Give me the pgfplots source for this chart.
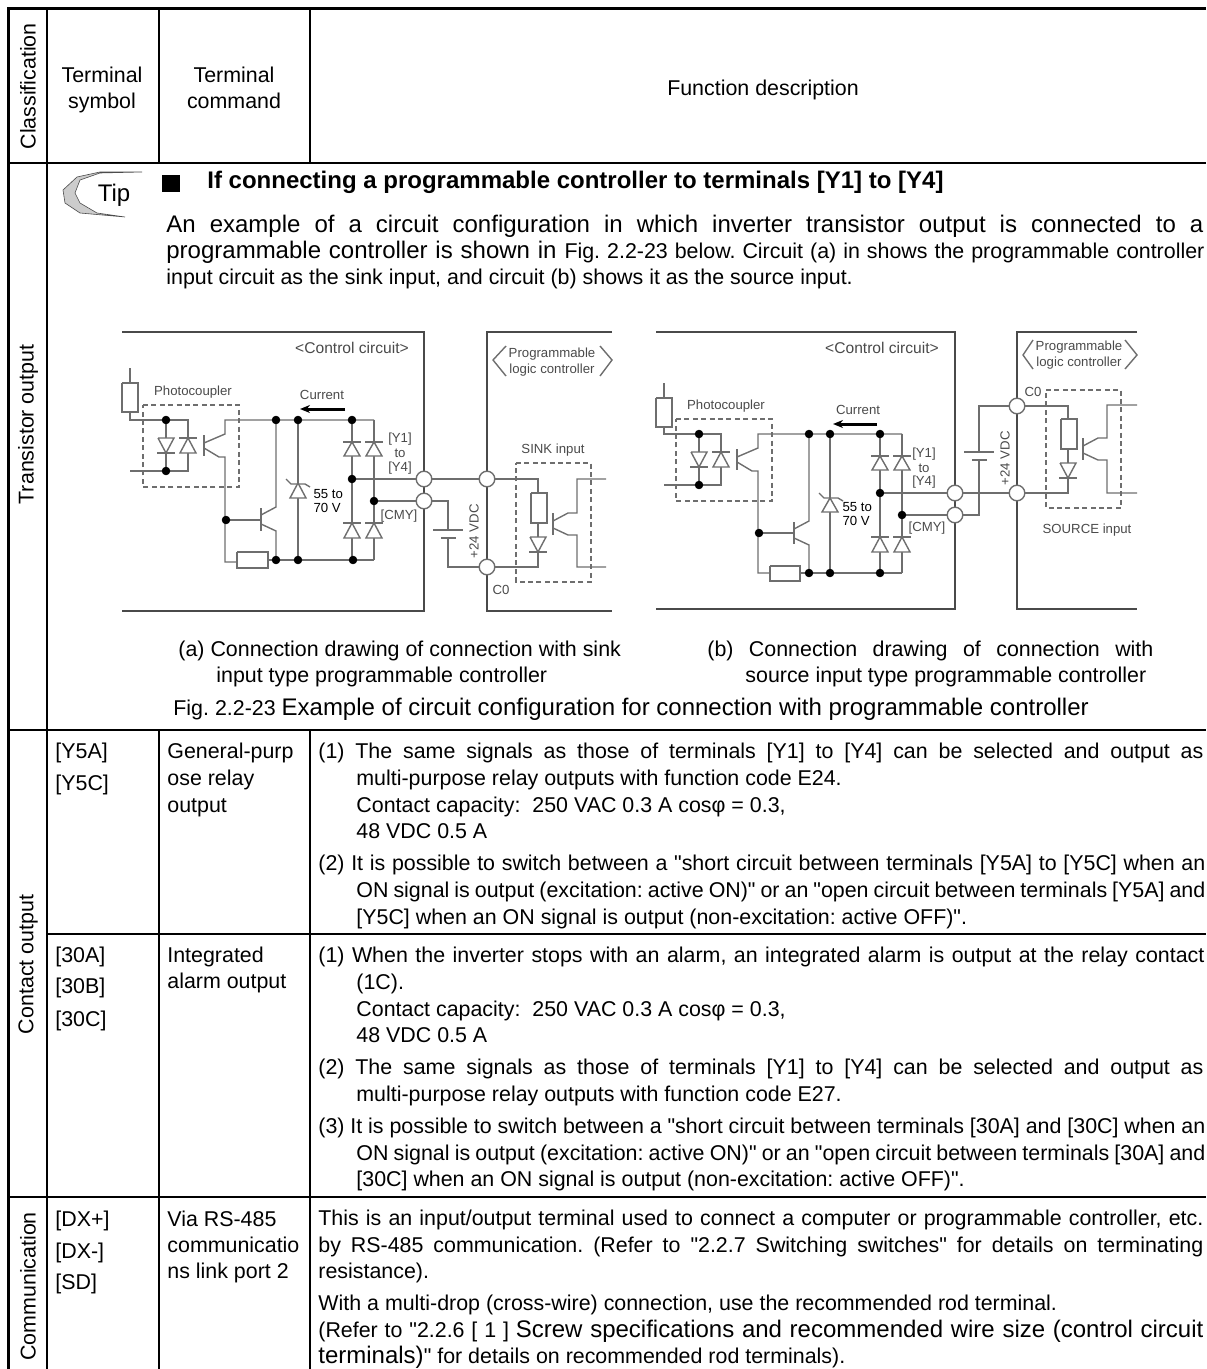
\documentclass[border=0pt]{standalone}
\usepackage{pgfplots}
\pgfplotsset{compat=1.18}
\usetikzlibrary{arrows.meta}
\usepackage{fontspec}
\setmainfont{Liberation Sans}[Ligatures=TeXOff]
\newdimen\px \px=0.5pt
\newcommand\bodyf{\fontsize{10.7pt}{12pt}\selectfont\spaceskip=.278em plus 3em minus .17em\relax}
\newcommand\bigf{\fontsize{12pt}{14pt}\selectfont\spaceskip=.278em plus 3em minus .17em\relax}
\newcommand\circf{\fontsize{6.6pt}{7pt}\selectfont}
\newcommand\T[3]{\node[anchor=base west,inner sep=0pt,font=\bodyf] at (axis cs:#1,#2) {#3};}
\newcommand\Tc[3]{\node[anchor=base,inner sep=0pt,font=\bodyf] at (axis cs:#1,#2) {#3};}
\newcommand\J[4]{\node[anchor=base west,inner sep=0pt,font=\bodyf] at (axis cs:#1,#2) {\makebox[#3\px][s]{#4}};}
\newcommand\R[3]{\node[anchor=center,inner sep=0pt,rotate=90,font=\bodyf] at (axis cs:#1,#2) {#3};}
\newcommand\C[3]{\node[anchor=center,inner sep=0pt,font=\circf,text=wiret] at (axis cs:#1,#2) {#3};}
\definecolor{wire}{HTML}{6E6E6E}
\definecolor{wiret}{HTML}{4A4A4A}
\newcommand\G[1]{\addplot[black,line width=1pt,forget plot] coordinates {#1};}
\newcommand\W[1]{\addplot[wire,line width=0.7pt,forget plot] coordinates {#1};}
\newcommand\D[1]{\addplot[wire,line width=0.7pt,dash pattern=on 2.5pt off 1.7pt,forget plot] coordinates {#1};}
\newcommand\B[1]{\addplot[wire,line width=0.7pt,fill=white,forget plot] coordinates {#1};}
\begin{document}
\frenchspacing
\begin{tikzpicture}
\path[use as bounding box] (0,0) rectangle (603pt,684.5pt);
\tikzset{every node/.append style={yshift=-0.7pt}}
\begin{axis}[at={(0,0)},anchor=south west,scale only axis,width=603pt,height=684.5pt,
 xmin=0,xmax=1206,ymin=0,ymax=1369,y dir=reverse,hide axis,clip=false]
% table grid
\addplot[black,line width=1.5pt,forget plot] coordinates {(8,1369)(8,9)(1206,9)};
\G{(47,9)(47,1369)}
\G{(159,9)(159,163)} \G{(310,9)(310,163)}
\G{(159,730)(159,1369)} \G{(310,730)(310,1369)}
\G{(8,163)(1206,163)} \G{(8,730)(1206,730)} \G{(47,934)(1206,934)} \G{(8,1197)(1206,1197)}
% header
\R{28}{85}{Classification}
\Tc{102}{81}{Terminal} \Tc{102}{107}{symbol}
\Tc{234}{81}{Terminal} \Tc{234}{107}{command}
\Tc{763}{94}{Function description}
\R{28}{423}{Transistor output}
\R{28}{963}{Contact output}
\R{28}{1285}{Communication}
% tip logo
\addplot[fill=gray!40,draw=gray!60!black,line width=0.3pt,forget plot] coordinates {(142,172)(100,172)(77,177)(63,190)(65,203)(80,213)(125,217)(97,213)(80,203)(75,193)(80,180)(100,173)(142,172)};
\node[anchor=base,inner sep=0pt,font=\fontsize{12pt}{14pt}\selectfont] at (axis cs:114,200) {Tip};
\addplot[black,fill=black,line width=0pt,forget plot] coordinates {(162,175)(179,175)(179,191)(162,191)(162,175)};
\node[anchor=base west,inner sep=0pt,font=\fontsize{12pt}{14pt}\selectfont\bfseries] at (axis cs:207,187) {If connecting a programmable controller to terminals [Y1] to [Y4]};
\node[anchor=base west,inner sep=0pt,font=\bigf] at (axis cs:166,231) {\makebox[1037\px][s]{An example of a circuit configuration in which inverter transistor output is connected to a}};
\node[anchor=base west,inner sep=0pt,font=\bigf] at (axis cs:166,257) {\makebox[1038\px][s]{programmable controller is shown in {\bodyf Fig. 2.2-23 below. Circuit (a) in shows the programmable controller}}};
\T{166}{283}{input circuit as the sink input, and circuit (b) shows it as the source input.}
% captions
\T{178}{655}{(a) Connection drawing of connection with sink}
\T{216}{681}{input type programmable controller}
\J{707}{655}{446}{(b) Connection drawing of connection with}
\T{745}{681}{source input type programmable controller}
\node[anchor=base west,inner sep=0pt,font=\bodyf] at (axis cs:173,714) {Fig. 2.2-23 {\bigf Example of circuit configuration for connection with programmable controller}};
% row Y5
\T{55}{757}{[Y5A]} \T{55}{789}{[Y5C]}
\T{167}{757}{General-purp} \T{167}{784}{ose relay} \T{167}{811}{output}
\J{318}{757}{885}{(1) The same signals as those of terminals [Y1] to [Y4] can be selected and output as}
\T{356}{784}{multi-purpose relay outputs with function code E24.}
\T{356}{811}{Contact capacity:\ \ 250 VAC 0.3 A cosφ = 0.3,}
\T{356}{837}{48 VDC 0.5 A}
\J{318}{869}{887}{(2) It is possible to switch between a "short circuit between terminals [Y5A] to [Y5C] when an}
\J{356}{896}{849}{ON signal is output (excitation: active ON)" or an "open circuit between terminals [Y5A] and}
\T{356}{923}{[Y5C] when an ON signal is output (non-excitation: active OFF)".}
% row 30
\T{55}{961}{[30A]} \T{55}{992}{[30B]} \T{55}{1025}{[30C]}
\T{167}{961}{Integrated} \T{167}{987}{alarm output}
\J{318}{961}{886}{(1) When the inverter stops with an alarm, an integrated alarm is output at the relay contact}
\T{356}{988}{(1C).}
\T{356}{1015}{Contact capacity:\ \ 250 VAC 0.3 A cosφ = 0.3,}
\T{356}{1041}{48 VDC 0.5 A}
\J{318}{1073}{885}{(2) The same signals as those of terminals [Y1] to [Y4] can be selected and output as}
\T{356}{1100}{multi-purpose relay outputs with function code E27.}
\J{318}{1132}{887}{(3) It is possible to switch between a "short circuit between terminals [30A] and [30C] when an}
\J{356}{1159}{849}{ON signal is output (excitation: active ON)" or an "open circuit between terminals [30A] and}
\T{356}{1185}{[30C] when an ON signal is output (non-excitation: active OFF)".}
% row comm
\T{55}{1225}{[DX+]} \T{55}{1257}{[DX-]} \T{55}{1288}{[SD]}
\T{167}{1225}{Via RS-485} \T{167}{1251}{communicatio} \T{167}{1277}{ns link port 2}
\J{318}{1224}{885}{This is an input/output terminal used to connect a computer or programmable controller, etc.}
\J{318}{1251}{885}{by RS-485 communication. (Refer to "2.2.7 Switching switches" for details on terminating}
\T{318}{1277}{resistance).}
\T{318}{1309}{With a multi-drop (cross-wire) connection, use the recommended rod terminal.}
\J{318}{1336}{885}{(Refer to "2.2.6 [ 1 ] {\bigf Screw specifications and recommended wire size (control circuit}}
\T{318}{1362}{{\bigf terminals)}" for details on recommended rod terminals).}
% ---------- circuit (a)
\addplot[wiret,line width=0.7pt,forget plot] coordinates {(122,611)(424,611)(424,332)(122,332)};
\addplot[wiret,line width=0.7pt,forget plot] coordinates {(612,332)(487,332)(487,611)(612,611)};
\W{(130,368)(130,383)} \W{(130,412)(130,420)(188,420)(188,471)(130,471)}
\W{(166,420)(166,471)}
\W{(122,383)(138,383)(138,412)(122,412)(122,383)}
\D{(143,405)(239,405)(239,487)(143,487)(143,405)}
\B{(158,438)(174,438)(166,453)(158,438)} \W{(157,453)(175,453)}
\B{(188,438)(196,453)(180,453)(188,438)} \W{(179,438)(197,438)}
\W{(204,435)(204,456)} \W{(204,443)(225,434)(225,420)(374,420)}
\W{(204,448)(219,457)(225,457)(225,562)(237,562)} \W{(268,560)(374,560)}
\B{(237,552)(268,552)(268,568)(237,568)(237,552)}
\W{(226,520)(261,520)} \W{(261,508)(261,531)} \W{(261,515)(276,507)(276,420)} \W{(261,524)(276,531)(276,560)}
\W{(298,420)(298,560)}
\B{(298,483)(306,498)(290,498)(298,483)} \W{(286,479)(291,484)(305,484)(310,487)}
\W{(352,420)(352,560)} \W{(374,420)(374,560)}
\B{(352,442)(360,456)(344,456)(352,442)} \W{(343,442)(361,442)}
\B{(374,442)(382,456)(366,456)(374,442)} \W{(365,442)(383,442)}
\B{(352,523)(360,538)(344,538)(352,523)} \W{(343,523)(361,523)}
\B{(374,523)(382,538)(366,538)(374,523)} \W{(365,523)(383,523)}
\W{(352,479)(538,479)(538,493)} \W{(538,523)(538,537)} \W{(538,552)(538,567)(487,567)} \W{(374,501)(448,501)(448,530)} \W{(433,530)(463,530)} \W{(441,538)(456,538)} \W{(448,538)(448,567)(487,567)}
\B{(531,493)(547,493)(547,523)(531,523)(531,493)}
\B{(530,537)(546,537)(538,552)(530,537)} \W{(529,552)(547,552)}
\D{(516,463)(591,463)(591,582)(516,582)(516,463)}
\W{(553,513)(553,535)} \W{(553,521)(568,513)(577,513)(577,479)(606,479)} \W{(553,528)(568,535)(577,535)(577,567)(606,567)}
\W{(506,346)(493,360)(506,376)} \W{(600,346)(612,360)(600,376)}
\addplot[black,line width=1.5pt,forget plot,-{Stealth[length=5pt,width=4pt]}] coordinates {(345,409)(300,409)};
\addplot[only marks,mark=*,mark size=1.9pt,black,forget plot] coordinates {(166,420)(166,471)(276,420)(298,420)(352,420)(276,560)(298,560)(353,560)(226,520)(352,479)(374,501)};
\addplot[only marks,mark=*,mark size=3.9pt,mark options={draw=wire,fill=white,line width=0.7pt},forget plot] coordinates {(424,479)(424,501)(487,479)(487,567)};
\C{352}{347}{\fontsize{7.8pt}{9pt}\selectfont <Control circuit>}
\C{193}{391}{Photocoupler} \C{322}{394}{Current}
\C{552}{353}{Programmable} \C{552}{369}{logic controller}
\C{553}{449}{SINK input} \C{400}{438}{[Y1]} \C{400}{452}{to} \C{400}{467}{[Y4]}
\C{399}{515}{[CMY]} \C{501}{589}{C0}
\node[rotate=90,inner sep=0pt,font=\circf,text=wiret] at (axis cs:474,530) {+24 VDC};
\node[anchor=west,fill=white,inner sep=0.6pt,font=\circf,align=left] at (axis cs:312,500) {55 to\\70 V};
% ---------- circuit (b)
\addplot[wiret,line width=0.7pt,forget plot] coordinates {(656,332)(955,332)(955,609)(656,609)};
\addplot[wiret,line width=0.7pt,forget plot] coordinates {(1137,332)(1017,332)(1017,609)(1137,609)};
\W{(664,383)(664,398)} \W{(664,427)(664,434)(721,434)(721,485)(664,485)}
\W{(699,434)(699,485)}
\W{(656,398)(672,398)(672,427)(656,427)(656,398)}
\D{(676,419)(772,419)(772,501)(676,501)(676,419)}
\B{(691,452)(707,452)(699,467)(691,452)} \W{(690,467)(708,467)}
\B{(721,452)(729,467)(713,467)(721,452)} \W{(712,452)(730,452)}
\W{(737,449)(737,470)} \W{(737,457)(758,448)(758,434)(902,434)}
\W{(737,462)(752,471)(758,471)(758,573)(770,573)} \W{(801,573)(902,573)}
\B{(770,566)(800,566)(800,581)(770,581)(770,566)}
\W{(759,533)(794,533)} \W{(794,522)(794,544)} \W{(794,529)(809,521)(809,434)} \W{(794,538)(809,545)(809,573)}
\W{(830,434)(830,573)}
\B{(830,498)(838,512)(822,512)(830,498)} \W{(819,493)(824,498)(838,498)(843,501)}
\W{(880,434)(880,573)} \W{(902,434)(902,573)}
\B{(880,456)(888,470)(872,470)(880,456)} \W{(871,456)(889,456)}
\B{(902,456)(910,470)(894,470)(902,456)} \W{(893,456)(911,456)}
\B{(880,537)(888,552)(872,552)(880,537)} \W{(871,537)(889,537)}
\B{(902,537)(910,552)(894,552)(902,537)} \W{(893,537)(911,537)}
\W{(880,493)(1068,493)(1068,478)} \W{(902,515)(979,515)(979,460)} \W{(964,452)(994,452)} \W{(972,460)(987,460)} \W{(979,452)(979,406)(1068,406)(1068,419)} \W{(1068,449)(1068,463)}
\B{(1061,419)(1077,419)(1077,449)(1061,449)(1061,419)}
\B{(1060,463)(1076,463)(1068,478)(1060,463)} \W{(1059,478)(1077,478)}
\D{(1046,390)(1121,390)(1121,508)(1046,508)(1046,390)}
\W{(1083,438)(1083,460)} \W{(1083,446)(1098,438)(1107,438)(1107,405)(1137,405)} \W{(1083,453)(1098,460)(1107,460)(1107,493)(1137,493)}
\W{(1033,340)(1023,355)(1033,369)} \W{(1125,340)(1137,355)(1125,369)}
\addplot[black,line width=1.5pt,forget plot,-{Stealth[length=5pt,width=4pt]}] coordinates {(877,424)(833,424)};
\addplot[only marks,mark=*,mark size=1.9pt,black,forget plot] coordinates {(699,434)(699,485)(809,434)(830,434)(880,434)(809,573)(830,573)(880,573)(759,533)(880,493)(902,515)};
\addplot[only marks,mark=*,mark size=3.9pt,mark options={draw=wire,fill=white,line width=0.7pt},forget plot] coordinates {(955,493)(955,515)(1017,493)(1017,406)};
\C{882}{347}{\fontsize{7.8pt}{9pt}\selectfont <Control circuit>}
\C{726}{405}{Photocoupler} \C{858}{409}{Current}
\C{1079}{346}{Programmable} \C{1079}{362}{logic controller}
\C{1087}{529}{SOURCE input} \C{924}{453}{[Y1]} \C{924}{467}{to} \C{924}{481}{[Y4]}
\C{927}{527}{[CMY]} \C{1033}{391}{C0}
\node[rotate=90,inner sep=0pt,font=\circf,text=wiret] at (axis cs:1005,457) {+24 VDC};
\node[anchor=west,fill=white,inner sep=0.6pt,font=\circf,align=left] at (axis cs:841,513) {55 to\\70 V};
\end{axis}
\end{tikzpicture}
\end{document}
